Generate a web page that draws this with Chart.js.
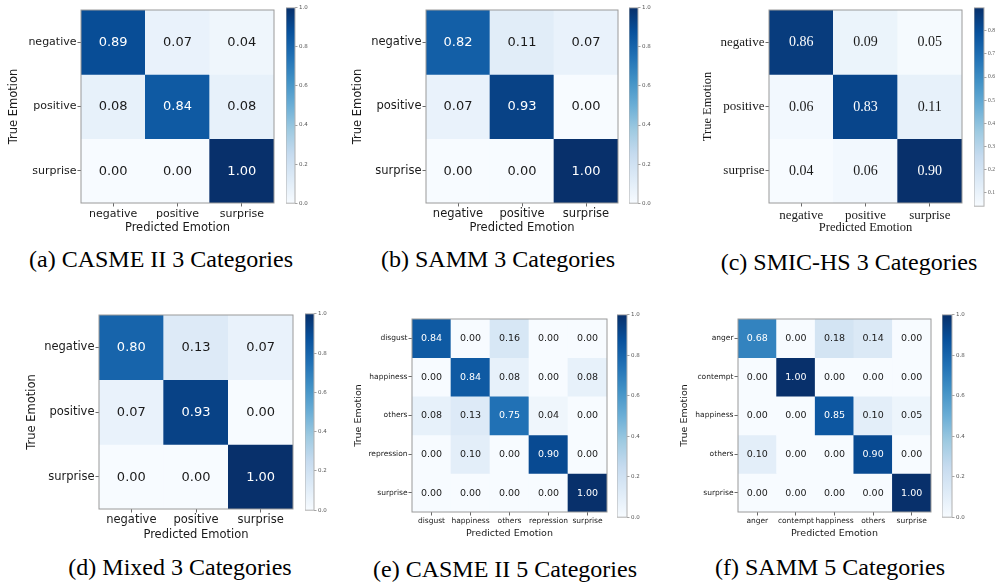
<!DOCTYPE html>
<html>
<head>
<meta charset="utf-8">
<script src="https://cdn.jsdelivr.net/npm/chart.js@4/dist/chart.umd.min.js"></script>
<style>
  body { margin: 0; background: #fff; width: 1000px; height: 583px; position: relative; overflow: hidden; }
  canvas { position: absolute; }
  .cap { position: absolute; font-family: "Liberation Serif", serif; font-size: 24px; color: #000;
         white-space: nowrap; transform: translate(-50%, -50%); line-height: 1; }
</style>
</head>
<body>
<script>
// ---- category names ----
const emotions3 = ['negative', 'positive', 'surprise'];
const casme5Labels = ['disgust', 'happiness', 'others', 'repression', 'surprise'];
const samm5Labels = ['anger', 'contempt', 'happiness', 'others', 'surprise'];

// ---- normalised confusion matrices (rows = true class, cols = predicted class) ----
const casme3 = [[0.89, 0.07, 0.04], [0.08, 0.84, 0.08], [0.00, 0.00, 1.00]];
const samm3 = [[0.82, 0.11, 0.07], [0.07, 0.93, 0.00], [0.00, 0.00, 1.00]];
const smic3 = [[0.86, 0.09, 0.05], [0.06, 0.83, 0.11], [0.04, 0.06, 0.90]];
const mixed3 = [[0.80, 0.13, 0.07], [0.07, 0.93, 0.00], [0.00, 0.00, 1.00]];
const casme5 = [
  [0.84, 0.00, 0.16, 0.00, 0.00],
  [0.00, 0.84, 0.08, 0.00, 0.08],
  [0.08, 0.13, 0.75, 0.04, 0.00],
  [0.00, 0.10, 0.00, 0.90, 0.00],
  [0.00, 0.00, 0.00, 0.00, 1.00]
];
const samm5 = [
  [0.68, 0.00, 0.18, 0.14, 0.00],
  [0.00, 1.00, 0.00, 0.00, 0.00],
  [0.00, 0.00, 0.85, 0.10, 0.05],
  [0.10, 0.00, 0.00, 0.90, 0.00],
  [0.00, 0.00, 0.00, 0.00, 1.00]
];

// ---- colour-bar ticks ----
const unitTicks = [0.0, 0.2, 0.4, 0.6, 0.8, 1.0];
const smicTicks = [0.1, 0.2, 0.3, 0.4, 0.5, 0.6, 0.7, 0.8];

// ---- captions ----
const captions = [
  '(a) CASME II 3 Categories', '(b) SAMM 3 Categories', '(c) SMIC-HS 3 Categories',
  '(d) Mixed 3 Categories', '(e) CASME II 5 Categories', '(f) SAMM 5 Categories'
];

// "Blues" sequential colormap
const BLUES = [[247,251,255],[222,235,247],[198,219,239],[158,202,225],[107,174,214],
               [66,146,198],[33,113,181],[8,81,156],[8,48,107]];
const rgb = c => `rgb(${c.map(Math.round).join(',')})`;
function blues(t) {
  t = Math.max(0, Math.min(1, t));
  const p = t * 8, i = Math.min(7, Math.floor(p)), f = p - i;
  return rgb(BLUES[i].map((v, k) => v + (BLUES[i + 1][k] - v) * f));
}

const SANS = '"DejaVu Sans", sans-serif';
const SERIF = '"Liberation Serif", serif';

// value text centred in every cell
const cellText = {
  id: 'cellText',
  afterDatasetsDraw(chart, args, opts) {
    const ctx = chart.ctx;
    ctx.save();
    ctx.font = `${opts.size}px ${opts.family}`;
    ctx.textAlign = 'center';
    ctx.textBaseline = 'middle';
    chart.data.datasets.forEach((ds, r) => {
      chart.getDatasetMeta(r).data.forEach((bar, c) => {
        const v = ds.values[c];
        ctx.fillStyle = v > opts.thresh ? '#ffffff' : '#1a1a1a';
        ctx.fillText(v.toFixed(2), bar.x, (bar.y + bar.base) / 2 + 0.5);
      });
    });
    ctx.restore();
  }
};

// thin rectangle around the plotting area
const frame = {
  id: 'frame',
  afterDatasetsDraw(chart, args, opts) {
    const a = chart.chartArea, ctx = chart.ctx;
    ctx.save();
    ctx.strokeStyle = opts.color;
    ctx.lineWidth = opts.width;
    ctx.strokeRect(a.left, a.top, a.right - a.left, a.bottom - a.top);
    ctx.restore();
  }
};

function addCanvas(x, y, w, h) {
  const cv = document.createElement('canvas');
  cv.width = w; cv.height = h;
  cv.style.left = x + 'px'; cv.style.top = y + 'px';
  cv.style.width = w + 'px'; cv.style.height = h + 'px';
  document.body.appendChild(cv);
  return cv;
}

function drawMatrix(p) {
  const n = p.labels.length;
  const lh = 1.2;
  const titleLH = p.title * lh;
  const cw = p.R + 3 - p.cx;
  const ch = Math.round(p.xTitleY + titleLH / 2 - p.cy);
  const cv = addCanvas(p.cx, p.cy, cw, ch);
  const tickFont = { family: p.family, size: p.tick };
  const titleFont = { family: p.family, size: p.title, lineHeight: lh };
  new Chart(cv, {
    type: 'bar',
    data: {
      labels: p.labels,
      datasets: p.matrix.map((row, r) => ({
        label: p.labels[r],
        data: row.map(() => [r, r + 1]),
        values: row,
        grouped: false,
        barPercentage: 1,
        categoryPercentage: 1,
        borderWidth: 0,
        backgroundColor: ctx => blues((row[ctx.dataIndex] - p.vmin) / (p.vmax - p.vmin))
      }))
    },
    options: {
      responsive: false,
      animation: false,
      events: [],
      devicePixelRatio: 1,
      layout: { padding: { left: 0, top: p.T - p.cy, right: p.cx + cw - p.R, bottom: 0 } },
      plugins: {
        legend: { display: false },
        tooltip: { enabled: false },
        cellText: { family: p.family, size: p.value, thresh: p.thresh },
        frame: { color: '#9a9a9a', width: 1 }
      },
      scales: {
        x: {
          type: 'category',
          offset: true,
          grid: { offset: false, drawOnChartArea: false, tickLength: 3.5, color: '#444', lineWidth: 0.8 },
          border: { display: false },
          ticks: { font: tickFont, color: '#1a1a1a', padding: 1, maxRotation: 0, autoSkip: false },
          title: { display: true, text: 'Predicted Emotion', font: titleFont, color: '#1a1a1a', padding: { top: 0, bottom: 0 } },
          afterFit: s => { s.height = p.cy + ch - p.B; }
        },
        y: {
          type: 'linear',
          min: 0,
          max: n,
          reverse: true,
          afterBuildTicks: s => { s.ticks = p.labels.map((_, i) => ({ value: i + 0.5 })); },
          grid: { drawOnChartArea: false, tickLength: 3.5, color: '#444', lineWidth: 0.8 },
          border: { display: false },
          ticks: { font: tickFont, color: '#1a1a1a', padding: 1, autoSkip: false, callback: (v, i) => p.labels[i] },
          title: { display: true, text: 'True Emotion', font: titleFont, color: '#1a1a1a',
                   padding: { top: p.yTitleX - p.cx - titleLH / 2, bottom: 0 } },
          afterFit: s => { s.width = p.L - p.cx; }
        }
      }
    },
    plugins: [cellText, frame]
  });
}

function drawColorbar(q) {
  const cv = addCanvas(q.L, q.T - 4, q.w, q.B - q.T + 8);
  new Chart(cv, {
    type: 'bar',
    data: {
      labels: [''],
      datasets: [{
        data: [[q.vmin, q.vmax]],
        barPercentage: 1,
        categoryPercentage: 1,
        borderWidth: 0,
        inflateAmount: 0,
        backgroundColor: ctx => {
          const a = ctx.chart.chartArea;
          if (!a) return blues(0.5);
          const g = ctx.chart.ctx.createLinearGradient(0, a.bottom, 0, a.top);
          BLUES.forEach((c, i) => g.addColorStop(i / 8, rgb(c)));
          return g;
        }
      }]
    },
    options: {
      responsive: false,
      animation: false,
      events: [],
      devicePixelRatio: 1,
      layout: { padding: { left: 0, right: 0, top: 4, bottom: 4 } },
      plugins: { legend: { display: false }, tooltip: { enabled: false }, frame: { color: '#b0b0b0', width: 1 } },
      scales: {
        x: { display: false },
        y: {
          position: 'right',
          min: q.vmin,
          max: q.vmax,
          afterBuildTicks: s => { s.ticks = q.ticks.map(v => ({ value: v })); },
          grid: { drawOnChartArea: false, tickLength: 2.5, color: '#666', lineWidth: 0.6 },
          border: { display: false },
          ticks: { font: { family: q.family, size: 5.5 }, color: '#555', padding: 1.5, autoSkip: false,
                   callback: v => v.toFixed(1) },
          afterFit: s => { s.width = q.w - (q.R - q.L); }
        }
      }
    },
    plugins: [frame]
  });
}

// top row
drawMatrix({ matrix: casme3, labels: emotions3, vmin: 0, vmax: 1, thresh: 0.5, family: SANS,
  tick: 11, value: 13, title: 11.5, cx: 0, cy: 0, L: 81, R: 274, T: 10, B: 203, yTitleX: 14, xTitleY: 228 });
drawColorbar({ L: 286, R: 295, T: 7, B: 204, w: 30, vmin: 0, vmax: 1, ticks: unitTicks, family: SANS });

drawMatrix({ matrix: samm3, labels: emotions3, vmin: 0, vmax: 1, thresh: 0.5, family: SANS,
  tick: 11.5, value: 13, title: 11.5, cx: 330, cy: 0, L: 426, R: 618, T: 10, B: 203, yTitleX: 358, xTitleY: 228 });
drawColorbar({ L: 629, R: 638, T: 7, B: 204, w: 30, vmin: 0, vmax: 1, ticks: unitTicks, family: SANS });

drawMatrix({ matrix: smic3, labels: emotions3, vmin: 0.04, vmax: 0.90, thresh: 0.45, family: SERIF,
  tick: 13, value: 14, title: 12.5, cx: 660, cy: 0, L: 769, R: 962, T: 10, B: 203, yTitleX: 708, xTitleY: 227 });
drawColorbar({ L: 974, R: 984, T: 7, B: 207, w: 26, vmin: 0.04, vmax: 0.90, ticks: smicTicks, family: SERIF });

// bottom row
drawMatrix({ matrix: mixed3, labels: emotions3, vmin: 0, vmax: 1, thresh: 0.5, family: SANS,
  tick: 11.5, value: 13, title: 11.5, cx: 0, cy: 290, L: 99, R: 293, T: 315, B: 509, yTitleX: 32, xTitleY: 535 });
drawColorbar({ L: 305, R: 314, T: 313, B: 511, w: 30, vmin: 0, vmax: 1, ticks: unitTicks, family: SANS });

drawMatrix({ matrix: casme5, labels: casme5Labels, vmin: 0, vmax: 1, thresh: 0.5, family: SANS,
  tick: 7.5, value: 9.5, title: 9.5, cx: 330, cy: 290, L: 412, R: 607, T: 319, B: 512, yTitleX: 359, xTitleY: 533 });
drawColorbar({ L: 617, R: 627, T: 314, B: 518, w: 30, vmin: 0, vmax: 1, ticks: unitTicks, family: SANS });

drawMatrix({ matrix: samm5, labels: samm5Labels, vmin: 0, vmax: 1, thresh: 0.5, family: SANS,
  tick: 7.5, value: 9.5, title: 9.5, cx: 660, cy: 290, L: 738, R: 931, T: 319, B: 512, yTitleX: 685, xTitleY: 533 });
drawColorbar({ L: 942, R: 952, T: 314, B: 518, w: 30, vmin: 0, vmax: 1, ticks: unitTicks, family: SANS });

// sub-figure captions
const capPos = [[161, 259], [498, 259], [849, 262], [180, 567], [505, 569], [830, 567]];
captions.forEach((t, i) => {
  const d = document.createElement('div');
  d.className = 'cap';
  d.textContent = t;
  d.style.left = capPos[i][0] + 'px';
  d.style.top = capPos[i][1] + 'px';
  document.body.appendChild(d);
});
</script>
</body>
</html>
